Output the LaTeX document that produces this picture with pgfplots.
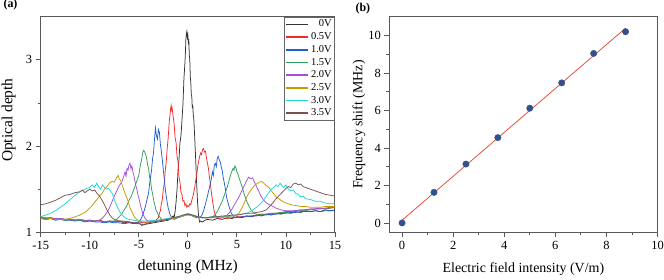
\documentclass[border=0pt]{standalone}
\usepackage{fontspec}
\setmainfont{Liberation Serif}
\usepackage{pgfplots}
\pgfplotsset{compat=1.18}
\definecolor{cA}{HTML}{333333}
\definecolor{cB}{HTML}{F22A2A}
\definecolor{cC}{HTML}{1F5FD6}
\definecolor{cD}{HTML}{2E9E5E}
\definecolor{cE}{HTML}{A050E0}
\definecolor{cF}{HTML}{C89A00}
\definecolor{cG}{HTML}{1ED6D6}
\definecolor{cH}{HTML}{7E5252}
\definecolor{ptc}{HTML}{34508C}
\definecolor{fitc}{HTML}{E8503A}
\begin{document}
\begin{tikzpicture}
\useasboundingbox (0,0) rectangle (664bp,280bp);
\node[anchor=west,font=\fontsize{12}{14}\selectfont\bfseries] at (0bp,275bp) {(a)};
\node[anchor=west,font=\fontsize{12}{14}\selectfont\bfseries] at (352bp,271bp) {(b)};
\begin{axis}[at={(40.7bp,47.7bp)}, anchor=south west,
  scale only axis, width=294.3bp, height=215.6bp,
  xmin=-15, xmax=15, ymin=1, ymax=3.5,
  xtick={-15,-10,...,15}, ytick={1,2,3},
  minor x tick num=1, minor y tick num=1,
  tick align=outside, tick pos=left,
  major tick length=5bp, minor tick length=3bp,
  axis line style={black!65, line width=1bp},
  every tick/.style={black!65, line width=0.8bp},
  /pgf/number format/assume math mode=true,
  xticklabel style={font=\fontsize{12.5}{14}\selectfont},
  yticklabel style={font=\fontsize{12.5}{14}\selectfont},
  xlabel={detuning (MHz)}, ylabel={Optical depth},
  every axis x label/.style={at={(axis description cs:0.5,-0.162)}, anchor=center, font=\fontsize{15.5}{17}\selectfont},
  every axis y label/.style={at={(axis description cs:-0.109,0.52)}, rotate=90, anchor=center, font=\fontsize{15.5}{17}\selectfont},
  legend style={at={(1,1)}, anchor=north east, draw=black!60, line width=0.5bp,
    font=\fontsize{10.5}{10.5}\selectfont, inner sep=1bp, row sep=0.3bp,
    cells={anchor=east}},
  legend cell align=right,
  legend image code/.code={\draw[#1] (-0.1bp,0bp) -- (22bp,0bp);},
  every axis plot/.append style={line width=0.75bp},
]
\addlegendimage{color=cA, line width=1.3bp}\addlegendentry{0V}
\addlegendimage{color=cB, line width=1.3bp}\addlegendentry{0.5V}
\addlegendimage{color=cC, line width=2bp}\addlegendentry{1.0V}
\addlegendimage{color=cD, line width=1.4bp}\addlegendentry{1.5V}
\addlegendimage{color=cE, line width=1.3bp}\addlegendentry{2.0V}
\addlegendimage{color=cF, line width=1.5bp}\addlegendentry{2.5V}
\addlegendimage{color=cG, line width=1.3bp}\addlegendentry{3.0V}
\addlegendimage{color=cH, line width=2bp}\addlegendentry{3.5V}
\addplot[cA, forget plot] coordinates {(-15,1.17)(-14.5,1.15)(-14,1.16)(-13.5,1.15)(-13,1.16)(-12.5,1.14)(-12,1.15)(-11.5,1.14)(-11,1.15)(-10.5,1.13)(-10,1.14)(-9.5,1.13)(-9,1.14)(-8.5,1.12)(-8,1.13)(-7.5,1.12)(-7,1.13)(-6.5,1.11)(-6,1.12)(-5.5,1.10)(-5,1.11)(-4.7,1.08)(-4.4,1.09)(-4,1.10)(-3.5,1.11)(-3,1.12)(-2.5,1.13)(-2,1.14)(-1.7,1.16)(-1.5,1.19)(-1.4,1.17)(-1.3,1.24)(-1.2,1.35)(-1.1,1.50)(-1.0,1.72)(-0.9,1.85)(-0.8,2.04)(-0.7,2.12)(-0.6,2.30)(-0.5,2.48)(-0.4,2.78)(-0.3,2.96)(-0.25,3.08)(-0.2,3.24)(-0.15,3.30)(-0.1,3.33)(-0.05,3.26)(0.0,3.29)(0.05,3.20)(0.1,3.22)(0.15,3.05)(0.2,3.00)(0.25,2.80)(0.3,2.74)(0.35,2.60)(0.4,2.58)(0.45,2.44)(0.5,2.48)(0.55,2.36)(0.6,2.33)(0.7,2.10)(0.8,1.84)(0.9,1.56)(1.0,1.33)(1.1,1.18)(1.2,1.12)(1.3,1.13)(1.5,1.12)(1.75,1.14)(2,1.15)(2.5,1.14)(3,1.16)(3.5,1.15)(4,1.17)(4.5,1.16)(5,1.18)(5.5,1.17)(6,1.19)(6.5,1.18)(7,1.20)(7.5,1.19)(8,1.21)(8.5,1.20)(9,1.22)(9.5,1.21)(10,1.23)(10.5,1.22)(11,1.24)(11.5,1.23)(12,1.25)(12.5,1.24)(13,1.25)(13.5,1.24)(14,1.26)(14.5,1.25)(15,1.26)};
\addplot[cB, forget plot] coordinates {(-15,1.17)(-14.5,1.16)(-14,1.17)(-13.5,1.15)(-13,1.16)(-12.5,1.15)(-12,1.15)(-11.5,1.14)(-11,1.15)(-10.5,1.13)(-10,1.14)(-9.5,1.13)(-9,1.14)(-8.5,1.12)(-8,1.13)(-7.5,1.12)(-7,1.13)(-6.5,1.12)(-6,1.12)(-5.5,1.11)(-5,1.12)(-4.5,1.11)(-4,1.12)(-3.5,1.13)(-3.25,1.14)(-3.0,1.17)(-2.9,1.22)(-2.8,1.25)(-2.7,1.33)(-2.6,1.38)(-2.5,1.50)(-2.4,1.56)(-2.3,1.72)(-2.2,1.82)(-2.1,1.98)(-2.0,2.10)(-1.9,2.28)(-1.8,2.38)(-1.75,2.44)(-1.7,2.47)(-1.65,2.42)(-1.6,2.44)(-1.5,2.34)(-1.4,2.26)(-1.3,2.10)(-1.2,2.04)(-1.1,1.88)(-1.0,1.82)(-0.9,1.64)(-0.8,1.58)(-0.7,1.46)(-0.6,1.44)(-0.5,1.36)(-0.4,1.37)(-0.3,1.31)(-0.2,1.33)(-0.1,1.29)(0.0,1.31)(0.1,1.30)(0.2,1.33)(0.3,1.32)(0.4,1.37)(0.5,1.41)(0.6,1.46)(0.7,1.52)(0.8,1.60)(0.9,1.66)(1.0,1.76)(1.1,1.82)(1.2,1.88)(1.3,1.92)(1.4,1.90)(1.5,1.96)(1.6,1.97)(1.7,1.93)(1.8,1.94)(1.9,1.86)(2.0,1.80)(2.1,1.74)(2.2,1.64)(2.3,1.56)(2.4,1.46)(2.5,1.38)(2.6,1.30)(2.7,1.24)(2.8,1.20)(3.0,1.17)(3.25,1.16)(3.5,1.17)(4,1.16)(4.5,1.17)(5,1.18)(5.5,1.18)(6,1.19)(6.5,1.19)(7,1.20)(7.5,1.21)(8,1.21)(8.5,1.22)(9,1.22)(9.5,1.23)(10,1.24)(10.5,1.24)(11,1.25)(11.5,1.26)(12,1.26)(12.5,1.27)(13,1.27)(13.5,1.28)(14,1.27)(14.5,1.28)(15,1.29)};
\addplot[cC, forget plot] coordinates {(-15,1.16)(-14.5,1.15)(-14,1.16)(-13.5,1.14)(-13,1.15)(-12.5,1.14)(-12,1.14)(-11.5,1.13)(-11,1.14)(-10.5,1.12)(-10,1.13)(-9.5,1.12)(-9,1.12)(-8.5,1.11)(-8,1.12)(-7.5,1.11)(-7,1.11)(-6.5,1.10)(-6,1.11)(-5.5,1.10)(-5.25,1.11)(-5.0,1.12)(-4.8,1.15)(-4.6,1.20)(-4.4,1.27)(-4.2,1.36)(-4.0,1.46)(-3.9,1.56)(-3.8,1.64)(-3.7,1.72)(-3.6,1.85)(-3.5,1.92)(-3.4,2.08)(-3.3,2.21)(-3.2,2.12)(-3.1,2.08)(-3.0,2.19)(-2.9,2.16)(-2.8,2.02)(-2.7,1.94)(-2.6,1.84)(-2.5,1.72)(-2.4,1.62)(-2.3,1.50)(-2.2,1.42)(-2.1,1.34)(-2.0,1.28)(-1.8,1.20)(-1.6,1.16)(-1.4,1.15)(-1.2,1.16)(-1.0,1.17)(-0.5,1.19)(0.0,1.21)(0.3,1.20)(0.6,1.18)(0.9,1.17)(1.2,1.17)(1.4,1.19)(1.6,1.25)(1.8,1.33)(2.0,1.42)(2.2,1.52)(2.4,1.62)(2.5,1.70)(2.6,1.66)(2.7,1.78)(2.8,1.80)(2.9,1.76)(3.0,1.86)(3.1,1.88)(3.2,1.84)(3.3,1.82)(3.4,1.76)(3.5,1.72)(3.6,1.64)(3.7,1.58)(3.8,1.52)(3.9,1.44)(4.0,1.38)(4.2,1.30)(4.4,1.23)(4.6,1.19)(4.8,1.17)(5.0,1.17)(5.5,1.18)(6,1.18)(6.5,1.19)(7,1.19)(7.5,1.20)(8,1.20)(8.5,1.21)(9,1.21)(9.5,1.22)(10,1.22)(10.5,1.23)(11,1.23)(11.5,1.24)(12,1.24)(12.5,1.24)(13,1.25)(13.5,1.24)(14,1.25)(14.5,1.25)(15,1.25)};
\addplot[cD, forget plot] coordinates {(-15,1.17)(-14.5,1.16)(-14,1.16)(-13.5,1.15)(-13,1.15)(-12.5,1.14)(-12,1.15)(-11.5,1.14)(-11,1.14)(-10.5,1.13)(-10,1.14)(-9.5,1.13)(-9,1.13)(-8.5,1.12)(-8,1.13)(-7.5,1.13)(-7.25,1.15)(-7.0,1.18)(-6.75,1.21)(-6.5,1.26)(-6.25,1.30)(-6.0,1.37)(-5.75,1.42)(-5.5,1.50)(-5.25,1.58)(-5.0,1.66)(-4.9,1.74)(-4.8,1.80)(-4.7,1.85)(-4.6,1.92)(-4.5,1.95)(-4.4,1.93)(-4.3,1.90)(-4.2,1.86)(-4.1,1.78)(-4.0,1.74)(-3.9,1.64)(-3.8,1.60)(-3.7,1.50)(-3.6,1.45)(-3.5,1.38)(-3.4,1.33)(-3.25,1.26)(-3.0,1.20)(-2.75,1.16)(-2.5,1.14)(-2.0,1.15)(-1.5,1.16)(-1.0,1.17)(-0.5,1.19)(0.0,1.21)(0.5,1.19)(1.0,1.18)(1.5,1.17)(2.0,1.17)(2.5,1.18)(2.75,1.20)(3.0,1.24)(3.25,1.30)(3.5,1.36)(3.75,1.44)(4.0,1.52)(4.2,1.60)(4.4,1.68)(4.6,1.74)(4.7,1.72)(4.8,1.77)(4.9,1.75)(5.0,1.70)(5.1,1.68)(5.25,1.62)(5.5,1.54)(5.75,1.44)(6.0,1.36)(6.25,1.30)(6.5,1.25)(6.75,1.22)(7.0,1.21)(7.5,1.21)(8,1.21)(8.5,1.22)(9,1.22)(9.5,1.23)(10,1.23)(10.5,1.24)(11,1.25)(11.5,1.25)(12,1.26)(12.5,1.26)(13,1.27)(13.5,1.27)(14,1.28)(14.5,1.28)(15,1.29)};
\addplot[cE, forget plot] coordinates {(-15,1.18)(-14.5,1.17)(-14,1.17)(-13.5,1.16)(-13,1.16)(-12.5,1.15)(-12,1.15)(-11.5,1.14)(-11,1.15)(-10.5,1.14)(-10,1.14)(-9.5,1.13)(-9.0,1.14)(-8.75,1.16)(-8.5,1.19)(-8.25,1.23)(-8.0,1.28)(-7.75,1.35)(-7.5,1.42)(-7.25,1.48)(-7.0,1.54)(-6.75,1.58)(-6.5,1.66)(-6.4,1.70)(-6.3,1.65)(-6.2,1.74)(-6.1,1.72)(-6.0,1.78)(-5.9,1.80)(-5.8,1.74)(-5.7,1.77)(-5.6,1.70)(-5.5,1.66)(-5.4,1.60)(-5.3,1.54)(-5.2,1.50)(-5.1,1.44)(-5.0,1.40)(-4.8,1.30)(-4.6,1.22)(-4.4,1.17)(-4.2,1.14)(-4.0,1.13)(-3.5,1.13)(-3.0,1.14)(-2.5,1.15)(-2.0,1.16)(-1.5,1.17)(-1.0,1.18)(-0.5,1.19)(0.0,1.21)(0.5,1.20)(1.0,1.18)(1.5,1.17)(2.0,1.17)(2.5,1.17)(3.0,1.18)(3.5,1.18)(4.0,1.20)(4.25,1.23)(4.5,1.27)(4.75,1.32)(5.0,1.37)(5.25,1.42)(5.5,1.48)(5.75,1.54)(6.0,1.60)(6.2,1.64)(6.4,1.62)(6.6,1.63)(6.8,1.58)(7.0,1.53)(7.25,1.47)(7.5,1.41)(7.75,1.37)(8.0,1.34)(8.5,1.31)(9.0,1.28)(9.5,1.26)(10,1.25)(10.5,1.25)(11,1.25)(11.5,1.26)(12,1.26)(12.5,1.27)(13,1.27)(13.5,1.28)(14,1.28)(14.5,1.29)(15,1.30)};
\addplot[cF, forget plot] coordinates {(-15,1.16)(-14.5,1.15)(-14,1.16)(-13.5,1.15)(-13,1.15)(-12.5,1.15)(-12.0,1.16)(-11.5,1.18)(-11.0,1.20)(-10.5,1.23)(-10.0,1.28)(-9.75,1.31)(-9.5,1.35)(-9.25,1.38)(-9.0,1.42)(-8.75,1.45)(-8.5,1.50)(-8.25,1.53)(-8.0,1.57)(-7.75,1.59)(-7.5,1.58)(-7.25,1.64)(-7.1,1.66)(-7.0,1.62)(-6.85,1.60)(-6.7,1.55)(-6.55,1.50)(-6.4,1.45)(-6.25,1.41)(-6.1,1.36)(-5.95,1.30)(-5.8,1.26)(-5.6,1.21)(-5.4,1.17)(-5.2,1.15)(-5.0,1.13)(-4.5,1.12)(-4.0,1.12)(-3.5,1.13)(-3.0,1.13)(-2.5,1.14)(-2.0,1.15)(-1.5,1.16)(-1.0,1.17)(-0.5,1.19)(0.0,1.20)(0.5,1.19)(1.0,1.18)(1.5,1.17)(2.0,1.17)(2.5,1.17)(3.0,1.17)(3.5,1.18)(4.0,1.18)(4.5,1.19)(5.0,1.20)(5.25,1.23)(5.5,1.28)(5.75,1.34)(6.0,1.41)(6.25,1.46)(6.5,1.50)(6.75,1.54)(7.0,1.56)(7.25,1.58)(7.5,1.59)(7.75,1.57)(8.0,1.54)(8.25,1.52)(8.5,1.48)(8.75,1.45)(9.0,1.41)(9.5,1.37)(10.0,1.34)(10.5,1.32)(11.0,1.31)(11.5,1.30)(12.0,1.30)(12.5,1.29)(13.0,1.29)(13.5,1.29)(14.0,1.30)(14.5,1.30)(15.0,1.30)};
\addplot[cG, forget plot] coordinates {(-15,1.18)(-14.5,1.20)(-14.0,1.22)(-13.5,1.25)(-13.0,1.29)(-12.5,1.33)(-12.0,1.38)(-11.5,1.43)(-11.0,1.47)(-10.5,1.50)(-10.0,1.52)(-9.75,1.55)(-9.5,1.52)(-9.3,1.57)(-9.1,1.53)(-8.9,1.50)(-8.7,1.55)(-8.5,1.52)(-8.3,1.50)(-8.1,1.51)(-7.9,1.48)(-7.7,1.45)(-7.5,1.38)(-7.3,1.32)(-7.1,1.27)(-6.9,1.23)(-6.7,1.20)(-6.5,1.18)(-6.25,1.16)(-6.0,1.15)(-5.5,1.14)(-5.0,1.13)(-4.5,1.13)(-4.0,1.13)(-3.5,1.14)(-3.0,1.14)(-2.5,1.15)(-2.0,1.16)(-1.5,1.17)(-1.0,1.18)(-0.5,1.20)(0.0,1.22)(0.5,1.20)(1.0,1.18)(1.5,1.17)(2.0,1.17)(2.5,1.18)(3.0,1.18)(3.5,1.18)(4.0,1.19)(4.5,1.19)(5.0,1.20)(5.5,1.21)(6.0,1.22)(6.5,1.25)(7.0,1.29)(7.5,1.34)(8.0,1.42)(8.25,1.46)(8.5,1.50)(8.75,1.52)(9.0,1.55)(9.2,1.53)(9.4,1.57)(9.6,1.54)(9.8,1.52)(10.0,1.55)(10.25,1.50)(10.5,1.48)(10.75,1.49)(11.0,1.45)(11.25,1.44)(11.5,1.41)(11.75,1.42)(12.0,1.39)(12.5,1.38)(13.0,1.36)(13.5,1.36)(14.0,1.34)(14.5,1.33)(15.0,1.33)};
\addplot[cH, forget plot] coordinates {(-15,1.32)(-14.5,1.33)(-14.0,1.35)(-13.5,1.37)(-13.0,1.40)(-12.5,1.43)(-12.0,1.44)(-11.5,1.46)(-11.0,1.47)(-10.75,1.49)(-10.5,1.46)(-10.25,1.48)(-10.0,1.50)(-9.75,1.48)(-9.5,1.49)(-9.25,1.45)(-9.0,1.42)(-8.75,1.37)(-8.5,1.32)(-8.25,1.26)(-8.0,1.21)(-7.75,1.17)(-7.5,1.15)(-7.0,1.13)(-6.5,1.13)(-6.0,1.12)(-5.5,1.11)(-5.0,1.10)(-4.5,1.09)(-4.0,1.11)(-3.5,1.12)(-3.0,1.13)(-2.5,1.14)(-2.0,1.15)(-1.5,1.17)(-1.0,1.18)(-0.5,1.20)(0.0,1.21)(0.5,1.20)(1.0,1.18)(1.5,1.17)(2.0,1.17)(2.5,1.18)(3.0,1.18)(3.5,1.19)(4.0,1.19)(4.5,1.20)(5.0,1.20)(5.5,1.21)(6.0,1.22)(6.5,1.22)(7.0,1.23)(7.5,1.24)(8.0,1.26)(8.5,1.32)(9.0,1.39)(9.5,1.45)(10.0,1.51)(10.25,1.53)(10.5,1.52)(10.75,1.56)(11.0,1.57)(11.25,1.55)(11.5,1.56)(11.75,1.53)(12.0,1.52)(12.5,1.50)(13.0,1.48)(13.5,1.46)(14.0,1.44)(14.5,1.43)(15.0,1.42)};
\end{axis}
\begin{axis}[at={(389.3bp,47.7bp)}, anchor=south west,
  scale only axis, width=268.2bp, height=215.6bp,
  xmin=-0.5, xmax=10, ymin=-0.5, ymax=11,
  xtick={0,2,...,10}, ytick={0,2,...,10},
  minor x tick num=1, minor y tick num=1,
  tick align=outside, tick pos=left,
  major tick length=5bp, minor tick length=3bp,
  axis line style={black!65, line width=1bp},
  every tick/.style={black!65, line width=0.8bp},
  /pgf/number format/assume math mode=true,
  xticklabel style={font=\fontsize{12.5}{14}\selectfont},
  yticklabel style={font=\fontsize{12.5}{14}\selectfont},
  xlabel={Electric field intensity (V/m)}, ylabel={Frequency shift (MHz)},
  every axis x label/.style={at={(axis description cs:0.5,-0.171)}, anchor=center, font=\fontsize{14}{16}\selectfont},
  every axis y label/.style={at={(axis description cs:-0.113,0.5)}, rotate=90, anchor=center, font=\fontsize{14}{16}\selectfont},
]
\addplot[fitc, line width=0.8bp] coordinates {(0,0.145)(8.75,10.39)};
\addplot[only marks, mark=*, mark size=3.2bp, mark options={fill=ptc, draw=ptc}] coordinates {(0,0)(1.25,1.63)(2.5,3.14)(3.75,4.55)(5,6.12)(6.25,7.47)(7.5,9.04)(8.75,10.2)};
\end{axis}
\end{tikzpicture}
\end{document}
